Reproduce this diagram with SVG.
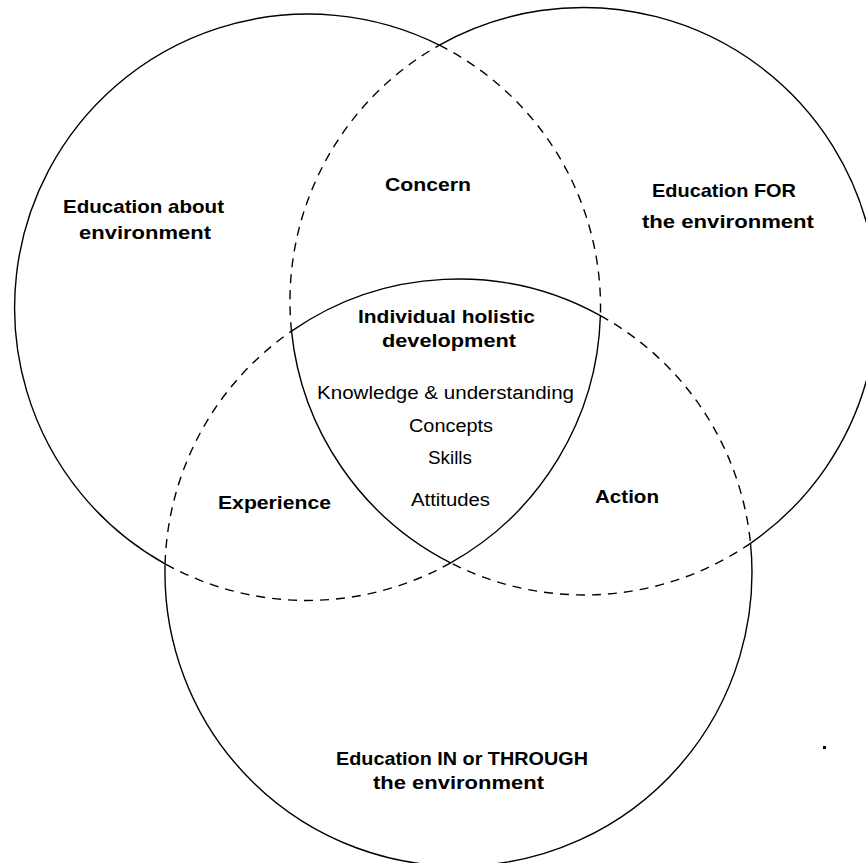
<svg xmlns="http://www.w3.org/2000/svg" width="866" height="863" viewBox="0 0 866 863">
  <style>
    .solid { fill: none; stroke: #000; stroke-width: 1.4; }
    .dash { fill: none; stroke: #000; stroke-width: 1.4; stroke-dasharray: 9 7; }
    .lbl { font-family: "Liberation Sans", Arial, sans-serif; font-weight: bold; font-size: 19px; fill: #000; text-anchor: middle; }
    .item { font-family: "Liberation Sans", Arial, sans-serif; font-size: 18px; fill: #000; text-anchor: middle; }
  </style>
  <rect width="866" height="863" fill="#fff"/>

  <!-- Left circle: Education about environment -->
  <g id="circle-about">
    <path class="dash" d="M439.4,45.1 A293.5,293.5 0 0 1 600.4,315.6"/>
    <path class="solid" d="M600.4,315.6 A293.5,293.5 0 0 1 450.6,562.9"/>
    <path class="dash" d="M450.6,562.9 A293.5,293.5 0 0 1 165.1,563.9"/>
    <path class="solid" d="M165.1,563.9 A293.5,293.5 0 0 1 439.4,45.1"/>
  </g>

  <!-- Right circle: Education FOR the environment -->
  <g id="circle-for">
    <path class="solid" d="M439.4,45.1 A294,294 0 0 1 750.5,543.3"/>
    <path class="dash" d="M750.5,543.3 A294,294 0 0 1 450.6,562.9"/>
    <path class="solid" d="M450.6,562.9 A294,294 0 0 1 291.5,331.1"/>
    <path class="dash" d="M291.5,331.1 A294,294 0 0 1 439.4,45.1"/>
  </g>

  <!-- Bottom circle: Education IN or THROUGH the environment -->
  <g id="circle-in">
    <path class="dash" d="M165.1,563.9 A293.5,293.5 0 0 1 291.5,331.1"/>
    <path class="solid" d="M291.5,331.1 A293.5,293.5 0 0 1 600.4,315.6"/>
    <path class="dash" d="M600.4,315.6 A293.5,293.5 0 0 1 750.5,543.3"/>
    <path class="solid" d="M750.5,543.3 A293.5,293.5 0 1 1 165.1,563.9"/>
  </g>

  <g id="label-about">
    <text class="lbl" x="143.5" y="213" textLength="161" lengthAdjust="spacingAndGlyphs">Education about</text>
    <text class="lbl" x="145" y="239" textLength="132" lengthAdjust="spacingAndGlyphs">environment</text>
  </g>
  <g id="label-for">
    <text class="lbl" x="724" y="197" textLength="144" lengthAdjust="spacingAndGlyphs">Education FOR</text>
    <text class="lbl" x="728" y="228" textLength="172" lengthAdjust="spacingAndGlyphs">the environment</text>
  </g>
  <g id="label-in">
    <text class="lbl" x="462" y="765" textLength="252" lengthAdjust="spacingAndGlyphs">Education IN or THROUGH</text>
    <text class="lbl" x="458.5" y="789" textLength="171" lengthAdjust="spacingAndGlyphs">the environment</text>
  </g>
  <g id="label-concern">
    <text class="lbl" x="428" y="191" textLength="86" lengthAdjust="spacingAndGlyphs">Concern</text>
  </g>
  <g id="label-experience">
    <text class="lbl" x="274.5" y="509" textLength="113" lengthAdjust="spacingAndGlyphs">Experience</text>
  </g>
  <g id="label-action">
    <text class="lbl" x="627" y="503" textLength="64" lengthAdjust="spacingAndGlyphs">Action</text>
  </g>
  <g id="label-centre">
    <text class="lbl" x="446.5" y="323" textLength="177" lengthAdjust="spacingAndGlyphs">Individual holistic</text>
    <text class="lbl" x="449" y="347" textLength="134" lengthAdjust="spacingAndGlyphs">development</text>
    <text class="item" x="445.5" y="399" textLength="257" lengthAdjust="spacingAndGlyphs">Knowledge &amp; understanding</text>
    <text class="item" x="451" y="432" textLength="84" lengthAdjust="spacingAndGlyphs">Concepts</text>
    <text class="item" x="450" y="464" textLength="44" lengthAdjust="spacingAndGlyphs">Skills</text>
    <text class="item" x="450.5" y="506" textLength="79" lengthAdjust="spacingAndGlyphs">Attitudes</text>
  </g>

  <rect x="823" y="746" width="3" height="3" fill="#000"/>
</svg>
